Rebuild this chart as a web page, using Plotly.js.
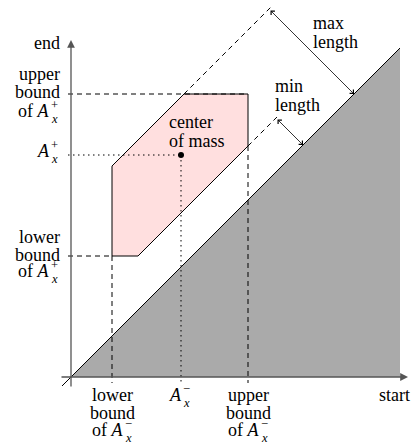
<!DOCTYPE html>
<html>
<head>
<meta charset="utf-8">
<script src="https://cdn.plot.ly/plotly-3.0.1.min.js"></script>
<style>html,body{margin:0;padding:0;background:#fff;}#chart{width:412px;height:444px;}</style>
</head>
<body>
<div id="chart"></div>
<script>
// ---- data (start on x, end on y; origin at the axes crossing) ----
const startBounds = [41, 177];      // lower / upper bound of A_x^-
const endBounds = [121, 283];       // lower / upper bound of A_x^+
const lengthBounds = [54, 170];     // min / max length (end - start)
const centerOfMass = [110, 222];    // [A_x^-, A_x^+]
const diagonalExtent = [-9, 329];   // end = start line
const axisExtent = [-11, 337];      // axis lines
const tickOverhang = -6;            // dashed guides below the x axis
const guideOverhang = -3;           // dashed guides left of the y axis
const maxGuideEnd = 202;            // start value where max-length guide stops
const minGuideEnd = 207;            // start value where min-length guide stops
const maxArrowStart = 198;
const minArrowStart = 205;

const FONT = '"Liberation Serif", "Times New Roman", serif';
const BLACK = '#000';

// feasible region built from the bounds
const [s0, s1] = startBounds, [e0, e1] = endBounds, [lmin, lmax] = lengthBounds;
const feasStart = [s0, e0 - lmin, s1, s1, e1 - lmax, s0, s0];
const feasEnd   = [e0, e0, s1 + lmin, e1, e1, s0 + lmax, e0];

const traces = [];
traces.push({x: [0, diagonalExtent[1], diagonalExtent[1], 0], y: [0, diagonalExtent[1], 0, 0],
  mode: 'lines', fill: 'toself', fillcolor: '#aaaaaa', line: {width: 0}, hoverinfo: 'skip'});
traces.push({x: diagonalExtent, y: diagonalExtent, mode: 'lines', line: {color: BLACK, width: 1}});
traces.push({x: feasStart, y: feasEnd, mode: 'lines', fill: 'toself', fillcolor: '#ffdfdf',
  line: {color: BLACK, width: 1}});
const dashed = {color: BLACK, width: 1, dash: '5px,4px'};
const dotted = {color: BLACK, width: 1, dash: '1.5px,3.5px'};
function seg(xs, ys, line) { traces.push({x: xs, y: ys, mode: 'lines', line: line, hoverinfo: 'skip'}); }
seg([guideOverhang, s1], [e1, e1], dashed);
seg([guideOverhang, s0], [e0, e0], dashed);
seg([s0, s0], [e0, tickOverhang], dashed);
seg([s1, s1], [s1 + lmin, tickOverhang], dashed);
seg([e1 - lmax, maxGuideEnd], [e1, maxGuideEnd + lmax], dashed);
seg([s1, minGuideEnd], [s1 + lmin, minGuideEnd + lmin], dashed);
seg([guideOverhang, centerOfMass[0]], [centerOfMass[1], centerOfMass[1]], dotted);
seg([centerOfMass[0], centerOfMass[0]], [centerOfMass[1], tickOverhang], dotted);
traces.push({x: [centerOfMass[0]], y: [centerOfMass[1]], mode: 'markers',
  marker: {color: BLACK, size: 6}});

const ann = [];
function arrow(x, y, ax, ay, opts) {
  ann.push(Object.assign({x: x, y: y, ax: ax, ay: ay, xref: 'x', yref: 'y', axref: 'x', ayref: 'y',
    text: '', showarrow: true, standoff: 0, startstandoff: 0}, opts));
}
arrow(0, axisExtent[1], 0, axisExtent[0], {arrowhead: 2, arrowsize: 1.2, arrowwidth: 1.3, arrowcolor: '#555'});
arrow(axisExtent[1], 0, axisExtent[0], 0, {arrowhead: 2, arrowsize: 1.2, arrowwidth: 1.3, arrowcolor: '#555'});
const dmax = lmax / 2, dmin = lmin / 2;
arrow(maxArrowStart + dmax, maxArrowStart + dmax, maxArrowStart, maxArrowStart + lmax,
  {arrowhead: 4, startarrowhead: 4, arrowside: 'end+start', arrowsize: 1.3, startarrowsize: 1.3, arrowwidth: 0.8, arrowcolor: BLACK});
arrow(minArrowStart + dmin, minArrowStart + dmin, minArrowStart, minArrowStart + lmin,
  {arrowhead: 4, startarrowhead: 4, arrowside: 'end+start', arrowsize: 1.3, startarrowsize: 1.3, arrowwidth: 0.8, arrowcolor: BLACK});

function txt(x, y, text, xanchor, size) {
  ann.push({x: x, y: y, xref: 'x', yref: 'y', text: text, showarrow: false, xanchor: xanchor,
    yanchor: 'middle', borderpad: 0, borderwidth: 0, font: {family: FONT, size: size || 18, color: BLACK}});
}
function ax(xr, y, base, sign) {
  txt(xr, y, base, 'right', 18);
  txt(xr + 0.5, y - 7.5, '<i>x</i>', 'left', 12.5);
  txt(xr + 0.5, y + 6, sign, 'left', 12.5);
}
txt(-11, 334, 'end', 'right');
txt(-11, 303, 'upper', 'right');
txt(-11, 285, 'bound', 'right');
ax(-21, 266, 'of <i>A</i>', '+');
ax(-21, 226, '<i>A</i>', '+');
txt(-11, 140, 'lower', 'right');
txt(-11, 122, 'bound', 'right');
ax(-21, 106, 'of <i>A</i>', '+');
txt(s0, -18, 'lower', 'center');
txt(s0, -36, 'bound', 'center');
ax(s0 + 12, -53, 'of <i>A</i>', '\u2212');
ax(centerOfMass[0] + 1, -18, '<i>A</i>', '\u2212');
txt(s1, -18, 'upper', 'center');
txt(s1, -36, 'bound', 'center');
ax(s1 + 12, -53, 'of <i>A</i>', '\u2212');
txt(339, -18, 'start', 'right');
txt(242, 354, 'max', 'left');
txt(242, 335, 'length', 'left');
txt(204, 291, 'min', 'left');
txt(204, 272, 'length', 'left');
txt(98, 255, 'center', 'left');
txt(98, 236, 'of mass', 'left');

const layout = {
  width: 412, height: 444,
  margin: {l: 0, r: 0, t: 0, b: 0},
  paper_bgcolor: '#fff', plot_bgcolor: '#fff',
  showlegend: false,
  xaxis: {range: [-71, 341], visible: false, fixedrange: true},
  yaxis: {range: [-67, 377], visible: false, fixedrange: true},
  annotations: ann
};
Plotly.newPlot('chart', traces, layout, {staticPlot: true});
</script>
</body>
</html>
